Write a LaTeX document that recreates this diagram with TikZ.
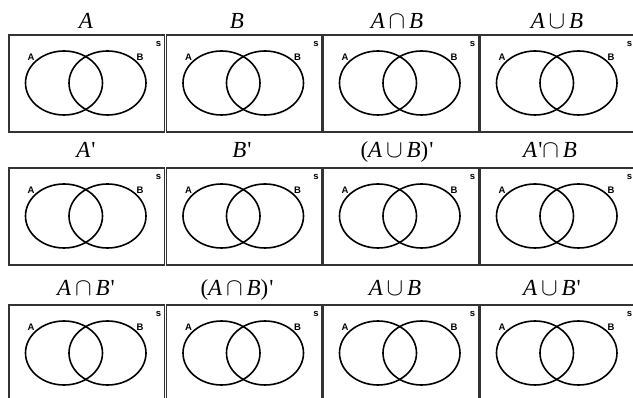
\documentclass[tikz,border=0pt]{standalone}
\usepackage{fontspec}
\setmainfont{Liberation Serif}
\newfontfamily\lblfont{Liberation Sans}
\usetikzlibrary{shapes.geometric}
\newcommand\VA{\textit{A}}
\newcommand\VB{\textit{B}}
\newcommand\Vcap{\,$\cap$\,}
\newcommand\Vcup{\,$\cup$\,}
\newcommand\Vpr{\kern1pt\textquotesingle}
\begin{document}
\begin{tikzpicture}[x=1pt,y=-1pt,
  frame/.style={draw=black!80,line width=1.7pt,minimum width=155.5pt,minimum height=97pt,inner sep=0pt,outer sep=0pt,anchor=north west},
  setline/.style={ellipse,draw=black,line width=1.6pt,minimum width=77pt,minimum height=64pt,inner sep=0pt},
  lbl/.style={font=\lblfont\bfseries\fontsize{9.5}{10}\selectfont,inner sep=0pt},
  title/.style={font=\fontsize{23}{25}\selectfont,anchor=base,inner sep=0pt}]
\useasboundingbox (0,0) rectangle (633,398);
\clip (0,0) rectangle (633,398);
\foreach \r/\y in {1/35,2/168,3/305}{
  \foreach \c/\x in {1/9,2/166.5,3/323,4/480}{
    \node[frame] (box\r\c) at (\x,\y) {};
    \node[setline] (ea\r\c) at (\x+55,\y+48) {};
    \node[setline] (eb\r\c) at (\x+98.5,\y+48) {};
    \node[lbl] (la\r\c) at (\x+22,\y+22) {A};
    \node[lbl] (lb\r\c) at (\x+131,\y+22) {B};
    \node[lbl] (ls\r\c) at (\x+149.5,\y+9) {s};
  }
}
% row 1 titles
\node[title] (t11) at (86,29) {\VA};
\node[title] (t12) at (237,29) {\VB};
\node[title] (t13) at (397,29) {\VA\Vcap\VB};
\node[title] (t14) at (557,29) {\VA\Vcup\VB};
% row 2 titles
\node[title] (t21) at (86,158) {\VA\Vpr};
\node[title] (t22) at (242,158) {\VB\Vpr};
\node[title] (t23) at (397,158) {(\VA\Vcup\VB)\Vpr};
\node[title] (t24) at (550,158) {\VA\Vpr$\cap$\,\VB};
% row 3 titles
\node[title] (t31) at (86,296) {\VA\Vcap\VB\Vpr};
\node[title] (t32) at (237,296) {(\VA\Vcap\VB)\Vpr};
\node[title] (t33) at (395,296) {\VA\Vcup\VB};
\node[title] (t34) at (552,296) {\VA\Vcup\VB\Vpr};
\end{tikzpicture}
\end{document}
